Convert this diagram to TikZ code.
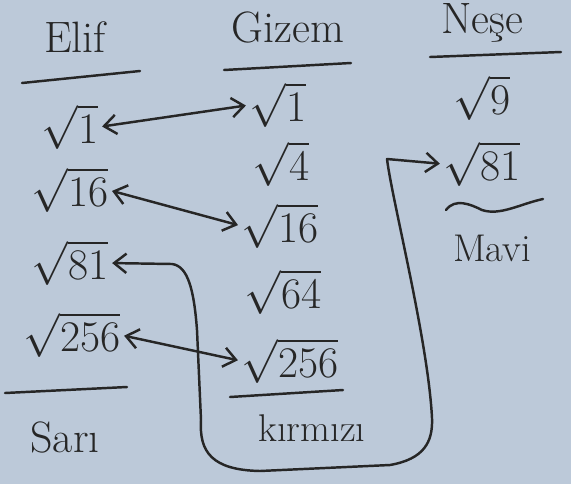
\documentclass[tikz,border=0pt]{standalone}
\usetikzlibrary{arrows.meta}
\definecolor{paper}{HTML}{BCC9D9}
\definecolor{ink}{HTML}{262626}
\begin{document}
\begin{tikzpicture}[x=0.02cm,y=-0.02cm,
  ink/.style={draw=ink,line width=1.4pt,line cap=round,line join=round},
  val/.style={text=ink,inner sep=0pt,font=\fontsize{23}{26}\selectfont},
  head/.style={text=ink,inner sep=0pt,font=\fontsize{25}{28}\selectfont},
  lab/.style={text=ink,inner sep=0pt,font=\fontsize{22}{25}\selectfont},
  link/.style={ink,shorten <=2pt,shorten >=2pt,{Straight Barb[length=7pt,width=11pt]}-{Straight Barb[length=7pt,width=11pt]}}]
\fill[paper] (0,0) rectangle (571,484);
\useasboundingbox (0,0) rectangle (571,484);
% headings
\node[head] (hE) at (75,37) {Elif};
\node[head] (hG) at (288,27) {Gizem};
\node[head] (hN) at (482,23) {Neşe};
\draw[ink] (22,83) -- (140,71);
\draw[ink] (224,70) -- (351,63);
\draw[ink] (430,57) -- (561,52);
% Elif column
\node[val] (e1) at (70,127) {$\sqrt{1}$};
\node[val] (e16) at (70,190) {$\sqrt{16}$};
\node[val] (e81) at (70,263) {$\sqrt{81}$};
\node[val] (e256) at (72,335) {$\sqrt{256}$};
\draw[ink] (5,393) -- (127,387);
\node[head] (sari) at (65,437) {Sarı};
% Gizem column
\node[val] (g1) at (278,105) {$\sqrt{1}$};
\node[val] (g4) at (281,164) {$\sqrt{4}$};
\node[val] (g16) at (280,226) {$\sqrt{16}$};
\node[val] (g64) at (283,292) {$\sqrt{64}$};
\node[val] (g256) at (290,361) {$\sqrt{256}$};
\draw[ink] (230,397) -- (343,390);
\node[lab] (kirmizi) at (312,428) {kırmızı};
% Nese column
\node[val] (n9) at (482,98) {$\sqrt{9}$};
\node[val] (n81) at (482,164) {$\sqrt{81}$};
\draw[ink] (446,210) .. controls (455,198) and (470,204) .. (482,210) .. controls (500,216) and (520,204) .. (543,199);
\node[lab] (mavi) at (492,248) {Mavi};
% connectors
\draw[link] (e1.east) -- (g1.west);
\draw[link] (e16.east) -- (g16.west);
\draw[link] (e256.east) -- (g256.west);
\draw[link] (e81.east) -- (172,264) .. controls (188,266) and (194,290) .. (197,330)
  -- (201,420) .. controls (199,452) and (212,470) .. (260,471)
  -- (390,465) .. controls (424,459) and (433,442) .. (432,418)
  .. controls (428,340) and (392,200) .. (387,159) -- (n81.west);
\end{tikzpicture}
\end{document}
